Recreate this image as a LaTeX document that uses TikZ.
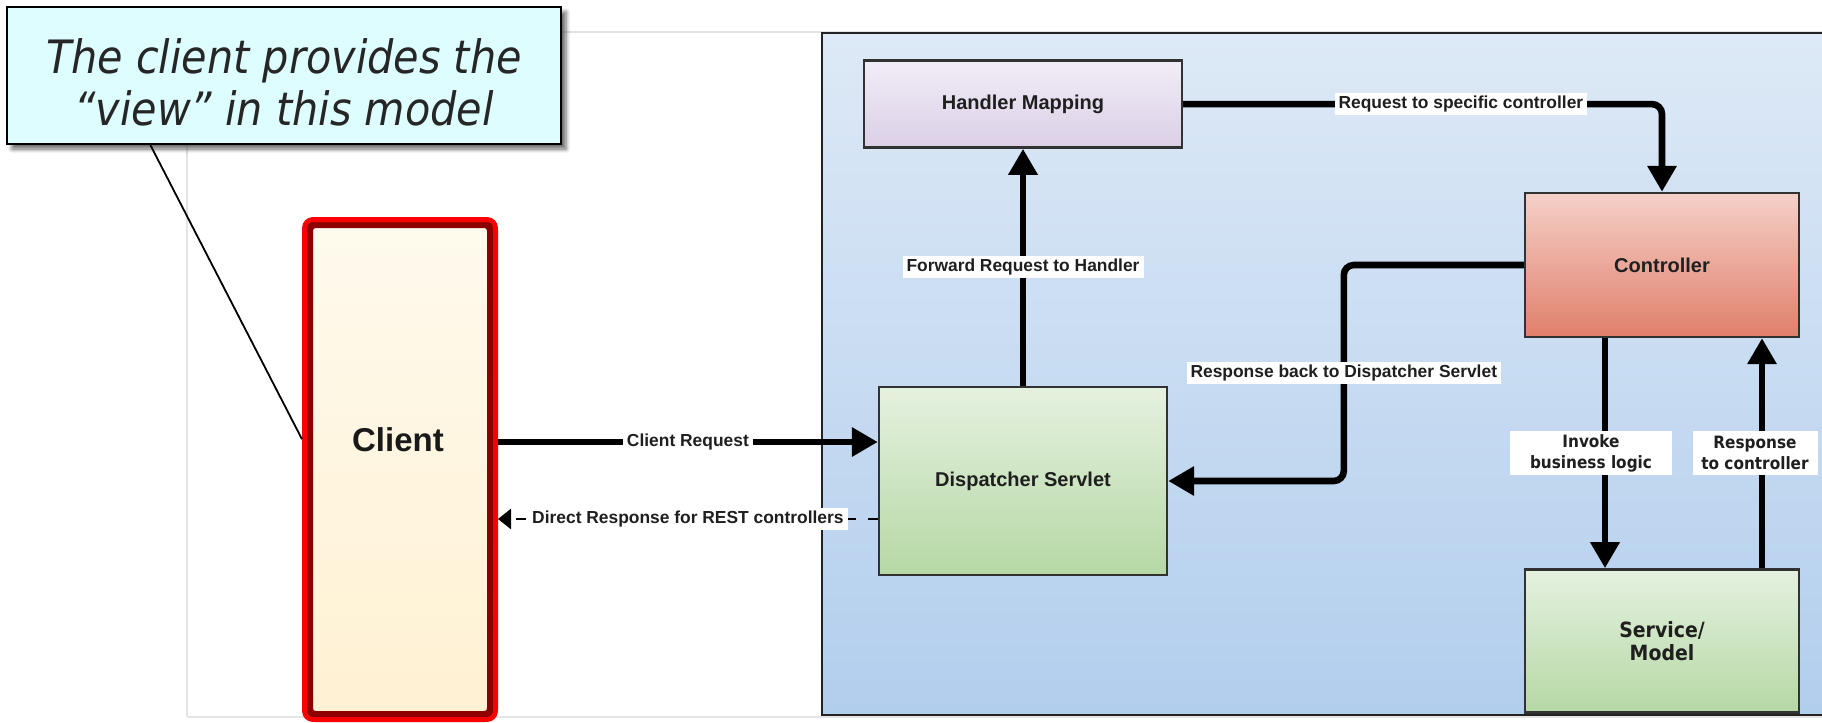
\documentclass[tikz,border=0pt]{standalone}
\usepackage{fontspec}
\setmainfont{Liberation Sans}
\newfontfamily\tahomafont[Extension=.ttf, UprightFont=*, BoldFont=*-Bold, ItalicFont=*-Oblique, BoldItalicFont=*-BoldOblique]{DejaVuSansCondensed}
\usepackage{tikz}
\usetikzlibrary{arrows.meta, positioning, calc, shadows.blur}
\definecolor{notecyan}{RGB}{222,253,255}
\definecolor{notetext}{RGB}{38,38,38}
\definecolor{framegray}{RGB}{228,228,228}
\definecolor{paneltop}{RGB}{221,233,246}
\definecolor{panelbottom}{RGB}{178,206,237}
\definecolor{panelline}{RGB}{34,34,34}
\definecolor{boxline}{RGB}{50,50,50}
\definecolor{hmtop}{RGB}{241,237,247}
\definecolor{hmbottom}{RGB}{219,207,230}
\definecolor{ctrltop}{RGB}{245,208,200}
\definecolor{ctrlbottom}{RGB}{224,127,107}
\definecolor{dsptop}{RGB}{229,241,223}
\definecolor{dspbottom}{RGB}{181,216,165}
\definecolor{clienttop}{RGB}{254,250,237}
\definecolor{clientbottom}{RGB}{255,241,210}
\definecolor{clientdark}{RGB}{140,0,0}
\definecolor{clientred}{RGB}{250,0,0}

\begin{document}
\begin{tikzpicture}[x=0.5pt, y=-0.5pt,
  stagebox/.style={draw=boxline, line width=1.2pt, inner sep=2pt, text=black!88,
    font=\fontsize{10}{12}\selectfont\bfseries},
  flow/.style={line width=3.3pt, rounded corners=5pt, -{Triangle[length=13pt,width=14pt]}},
  lbl/.style={fill=white, sharp corners, inner xsep=2pt, inner ysep=1.5pt, text=black!88,
    font=\fontsize{8.7}{10}\selectfont\bfseries},
  tlbl/.style={fill=white, sharp corners, align=center, inner sep=1pt, minimum height=22pt, text=black!88,
    font=\tahomafont\bfseries\fontsize{8.5}{10.5}\selectfont}]
  \useasboundingbox (0,0) rectangle (1822,723);

  % faint edge of the slide picture
  \draw[framegray, line width=0.6pt] (187,717) -- (187,32) -- (1822,32);
  \draw[framegray, line width=0.6pt] (187,717) -- (1822,717);

  % Spring MVC panel
  \shade[top color=paneltop, bottom color=panelbottom] (822,33) rectangle (1830,715);
  \draw[panelline, line width=1.3pt] (1830,33) -- (822,33) -- (822,715) -- (1830,715);

  % Stages
  \node[stagebox, top color=dsptop, bottom color=dspbottom, minimum width=144pt, minimum height=94pt] (disp) at (1023,481) {Dispatcher Servlet};
  \node[stagebox, top color=hmtop, bottom color=hmbottom, minimum width=159pt, minimum height=43.5pt, above=118.5pt of disp] (hm) {Handler Mapping};
  \node[stagebox, top color=ctrltop, bottom color=ctrlbottom, minimum width=137pt, minimum height=72pt] (ctrl) at (1662,265) {Controller};
  \node[stagebox, top color=dsptop, bottom color=dspbottom, minimum width=137pt, minimum height=71.5pt, below=115pt of ctrl, align=center,
    font=\tahomafont\bfseries\fontsize{10.5}{11.5}\selectfont] (svc) {Service/\\Model};

  % Client with bevelled red frame
  \node[draw=clientdark, line width=5.5pt, rounded corners=4pt, top color=clienttop, bottom color=clientbottom,
    minimum width=92.5pt, minimum height=247pt,
    label={[font=\fontsize{16.5}{18}\selectfont\bfseries, text=black!90, yshift=14.75pt, xshift=-1pt]center:Client}] (client) at (400,469.5) {};
  \draw[clientred, line width=2.4pt, rounded corners=4pt] ([shift={(1.3pt,-1.3pt)}]client.north west) rectangle ([shift={(-1.3pt,1.3pt)}]client.south east);

  % Callout
  \node[draw=black, line width=1.2pt, fill=notecyan, blur shadow={shadow xshift=2.5pt, shadow yshift=-2.5pt, shadow opacity=60},
    minimum width=277pt, minimum height=68.5pt, align=center, text=notetext,
    font=\tahomafont\itshape\fontsize{23}{26}\selectfont] (note) at (284,75.5) {\rule{0pt}{24.5pt}The client provides the\\“view” in this model};
  \coordinate (notefoot) at ($(note.south west)!0.26!(note.south east)$);
  \coordinate (clientside) at ($(client.north west)!0.44!(client.south west)$);
  \draw[line width=0.9pt] (notefoot) -- (clientside);

  % Request / response flow
  \coordinate (reqin) at ([yshift=19.5pt]disp.west);
  \coordinate (restout) at ([yshift=-19pt]disp.west);
  \draw[flow] (reqin -| client.east) -- node[lbl]{Client Request} (reqin);
  \draw[line width=1.2pt, dash pattern=on 5pt off 6pt, -{Triangle[length=6.5pt,width=10pt]}] (restout) -- node[lbl]{Direct Response for REST controllers} (restout -| client.east);
  \draw[flow] (disp.north) -- node[lbl]{Forward Request to Handler} (hm.south);
  \draw[flow] (hm.east) -- node[lbl, pos=0.58]{Request to specific controller} (hm.east -| ctrl.north) -- (ctrl.north);
  \draw[flow] (ctrl.west) -- ++(-180,0) |- node[lbl, pos=0.25]{Response back to Dispatcher Servlet} (disp.east);
  \draw[flow] ([xshift=-28.5pt]ctrl.south) -- node[tlbl, minimum width=81pt, xshift=-7pt]{Invoke\\business logic} ([xshift=-28.5pt]svc.north);
  \draw[flow] ([xshift=50pt]svc.north) -- node[tlbl, minimum width=62.5pt, xshift=-3.5pt]{Response\\to controller} ([xshift=50pt]ctrl.south);
\end{tikzpicture}
\end{document}
